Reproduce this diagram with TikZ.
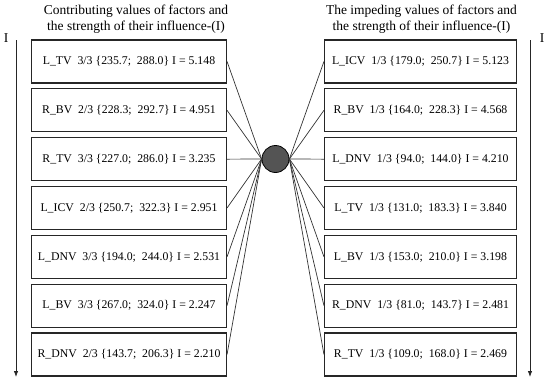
\documentclass[tikz,border=0pt]{standalone}
\usepackage{fontspec}
\setmainfont{Liberation Serif}
\usetikzlibrary{arrows.meta}
\begin{document}
\begin{tikzpicture}[x=1pt,y=-1pt,
  fbox/.style={draw=black!85,line width=1.1pt,minimum width=#1,minimum height=43pt,inner sep=0pt,font=\fontsize{11.8}{14}\selectfont},
  conn/.style={draw=black!80,line width=0.7pt},
  axis/.style={draw=black!85,line width=0.8pt,-{Latex[length=6pt,width=4.5pt]}},
  ttl/.style={align=center,font=\fontsize{13.5}{16}\selectfont}]
\useasboundingbox (0,0) rectangle (550,383);
\node[ttl] (tl) at (136,19) {Contributing values of factors and\\the strength of their influence-(I)};
\node[ttl] (tr) at (421.5,19) {The impeding values of factors and\\the strength of their influence-(I)};
\node[circle,draw=black,line width=0.8pt,fill=black!67,minimum size=27pt,inner sep=0pt] (c) at (275.5,159) {};
\foreach \i/\t in {0/{L\_TV\enspace 3/3 \{235.7;\enspace 288.0\} I = 5.148},
  1/{R\_BV\enspace 2/3 \{228.3;\enspace 292.7\} I = 4.951},
  2/{R\_TV\enspace 3/3 \{227.0;\enspace 286.0\} I = 3.235},
  3/{L\_ICV\enspace 2/3 \{250.7;\enspace 322.3\} I = 2.951},
  4/{L\_DNV\enspace 3/3 \{194.0;\enspace 244.0\} I = 2.531},
  5/{L\_BV\enspace 3/3 \{267.0;\enspace 324.0\} I = 2.247},
  6/{R\_DNV\enspace 2/3 \{143.7;\enspace 206.3\} I = 2.210}}{
  \node[fbox=195pt] (l\i) at (129,61.5+48.83*\i) {\t};
  \draw[conn] (l\i.east) -- (c.west);
}
\foreach \i/\t in {0/{L\_ICV\enspace 1/3 \{179.0;\enspace 250.7\} I = 5.123},
  1/{R\_BV\enspace 1/3 \{164.0;\enspace 228.3\} I = 4.568},
  2/{L\_DNV\enspace 1/3 \{94.0;\enspace 144.0\} I = 4.210},
  3/{L\_TV\enspace 1/3 \{131.0;\enspace 183.3\} I = 3.840},
  4/{L\_BV\enspace 1/3 \{153.0;\enspace 210.0\} I = 3.198},
  5/{R\_DNV\enspace 1/3 \{81.0;\enspace 143.7\} I = 2.481},
  6/{R\_TV\enspace 1/3 \{109.0;\enspace 168.0\} I = 2.469}}{
  \node[fbox=192pt] (r\i) at (420.5,61.5+48.83*\i) {\t};
  \draw[conn] (r\i.west) -- (c.east);
}
\coordinate (la) at (16,40);
\coordinate (lb) at (16,377);
\coordinate (ra) at (530,40);
\coordinate (rb) at (530,377);
\draw[axis] (la) -- (lb);
\draw[axis] (ra) -- (rb);
\node[font=\fontsize{13.5}{16}\selectfont] (il) at (6,38) {I};
\node[font=\fontsize{13.5}{16}\selectfont] (ir) at (542,38) {I};
\end{tikzpicture}
\end{document}
